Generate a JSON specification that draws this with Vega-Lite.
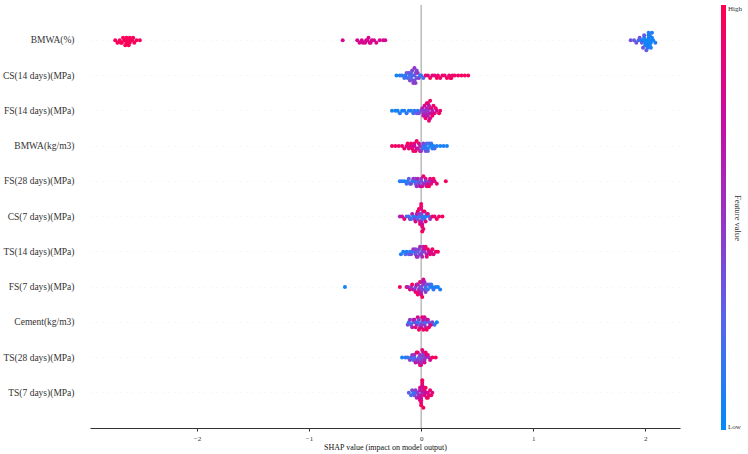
{
  "$schema": "https://vega.github.io/schema/vega-lite/v6.json",
  "width": 590,
  "height": 423,
  "autosize": "none",
  "padding": {"left": 90, "top": 5, "right": 68, "bottom": 26},
  "config": {"view": {"stroke": null}, "font": "Liberation Serif"},
  "datasets": {
    "shap": [
      {"feature":"BMWA(%)","shap":-2.73,"value":0.97},{"feature":"BMWA(%)","shap":-2.71,"value":0.98},{"feature":"BMWA(%)","shap":-2.69,"value":0.96},{"feature":"BMWA(%)","shap":-2.68,"value":0.99},{"feature":"BMWA(%)","shap":-2.67,"value":0.97},{"feature":"BMWA(%)","shap":-2.66,"value":0.98},{"feature":"BMWA(%)","shap":-2.65,"value":0.96},{"feature":"BMWA(%)","shap":-2.64,"value":0.99},{"feature":"BMWA(%)","shap":-2.63,"value":0.97},{"feature":"BMWA(%)","shap":-2.63,"value":0.98},{"feature":"BMWA(%)","shap":-2.62,"value":0.96},{"feature":"BMWA(%)","shap":-2.61,"value":0.99},{"feature":"BMWA(%)","shap":-2.6,"value":0.97},{"feature":"BMWA(%)","shap":-2.6,"value":0.98},{"feature":"BMWA(%)","shap":-2.59,"value":0.96},{"feature":"BMWA(%)","shap":-2.58,"value":0.97},{"feature":"BMWA(%)","shap":-2.57,"value":0.99},{"feature":"BMWA(%)","shap":-2.56,"value":0.98},{"feature":"BMWA(%)","shap":-2.54,"value":0.97},{"feature":"BMWA(%)","shap":-2.51,"value":0.96},
      {"feature":"BMWA(%)","shap":-0.7,"value":0.8},{"feature":"BMWA(%)","shap":-0.57,"value":0.8},{"feature":"BMWA(%)","shap":-0.55,"value":0.81},{"feature":"BMWA(%)","shap":-0.53,"value":0.79},{"feature":"BMWA(%)","shap":-0.52,"value":0.8},{"feature":"BMWA(%)","shap":-0.5,"value":0.82},{"feature":"BMWA(%)","shap":-0.49,"value":0.8},{"feature":"BMWA(%)","shap":-0.48,"value":0.79},{"feature":"BMWA(%)","shap":-0.47,"value":0.81},{"feature":"BMWA(%)","shap":-0.46,"value":0.8},{"feature":"BMWA(%)","shap":-0.45,"value":0.82},{"feature":"BMWA(%)","shap":-0.44,"value":0.8},{"feature":"BMWA(%)","shap":-0.42,"value":0.79},{"feature":"BMWA(%)","shap":-0.4,"value":0.81},{"feature":"BMWA(%)","shap":-0.37,"value":0.8},{"feature":"BMWA(%)","shap":-0.34,"value":0.82},{"feature":"BMWA(%)","shap":-0.32,"value":0.8},
      {"feature":"BMWA(%)","shap":1.87,"value":0.35},{"feature":"BMWA(%)","shap":1.9,"value":0.3},{"feature":"BMWA(%)","shap":1.92,"value":0.35},{"feature":"BMWA(%)","shap":1.94,"value":0.3},{"feature":"BMWA(%)","shap":1.95,"value":0.35},{"feature":"BMWA(%)","shap":1.96,"value":0.05},{"feature":"BMWA(%)","shap":1.97,"value":0.3},{"feature":"BMWA(%)","shap":1.98,"value":0.05},{"feature":"BMWA(%)","shap":1.98,"value":0.35},{"feature":"BMWA(%)","shap":1.99,"value":0.1},{"feature":"BMWA(%)","shap":1.99,"value":0.3},{"feature":"BMWA(%)","shap":2.0,"value":0.05},{"feature":"BMWA(%)","shap":2.0,"value":0.1},{"feature":"BMWA(%)","shap":2.01,"value":0.05},{"feature":"BMWA(%)","shap":2.01,"value":0.3},{"feature":"BMWA(%)","shap":2.02,"value":0.05},{"feature":"BMWA(%)","shap":2.02,"value":0.1},{"feature":"BMWA(%)","shap":2.02,"value":0.06},{"feature":"BMWA(%)","shap":2.03,"value":0.05},{"feature":"BMWA(%)","shap":2.03,"value":0.1},{"feature":"BMWA(%)","shap":2.03,"value":0.06},{"feature":"BMWA(%)","shap":2.04,"value":0.05},{"feature":"BMWA(%)","shap":2.04,"value":0.1},{"feature":"BMWA(%)","shap":2.04,"value":0.06},{"feature":"BMWA(%)","shap":2.05,"value":0.05},{"feature":"BMWA(%)","shap":2.05,"value":0.1},{"feature":"BMWA(%)","shap":2.06,"value":0.05},{"feature":"BMWA(%)","shap":2.06,"value":0.1},{"feature":"BMWA(%)","shap":2.07,"value":0.05},{"feature":"BMWA(%)","shap":2.09,"value":0.1},

      {"feature":"CS(14 days)(MPa)","shap":-0.22,"value":0.05},{"feature":"CS(14 days)(MPa)","shap":-0.19,"value":0.1},{"feature":"CS(14 days)(MPa)","shap":-0.17,"value":0.15},{"feature":"CS(14 days)(MPa)","shap":-0.15,"value":0.2},{"feature":"CS(14 days)(MPa)","shap":-0.14,"value":0.1},{"feature":"CS(14 days)(MPa)","shap":-0.13,"value":0.3},{"feature":"CS(14 days)(MPa)","shap":-0.12,"value":0.2},{"feature":"CS(14 days)(MPa)","shap":-0.11,"value":0.35},{"feature":"CS(14 days)(MPa)","shap":-0.1,"value":0.15},{"feature":"CS(14 days)(MPa)","shap":-0.1,"value":0.4},{"feature":"CS(14 days)(MPa)","shap":-0.09,"value":0.3},{"feature":"CS(14 days)(MPa)","shap":-0.09,"value":0.25},{"feature":"CS(14 days)(MPa)","shap":-0.08,"value":0.4},{"feature":"CS(14 days)(MPa)","shap":-0.08,"value":0.2},{"feature":"CS(14 days)(MPa)","shap":-0.07,"value":0.35},{"feature":"CS(14 days)(MPa)","shap":-0.07,"value":0.45},{"feature":"CS(14 days)(MPa)","shap":-0.06,"value":0.3},{"feature":"CS(14 days)(MPa)","shap":-0.06,"value":0.4},{"feature":"CS(14 days)(MPa)","shap":-0.06,"value":0.5},{"feature":"CS(14 days)(MPa)","shap":-0.05,"value":0.35},{"feature":"CS(14 days)(MPa)","shap":-0.05,"value":0.45},{"feature":"CS(14 days)(MPa)","shap":-0.04,"value":0.4},{"feature":"CS(14 days)(MPa)","shap":-0.04,"value":0.3},{"feature":"CS(14 days)(MPa)","shap":-0.03,"value":0.5},{"feature":"CS(14 days)(MPa)","shap":-0.02,"value":0.45},{"feature":"CS(14 days)(MPa)","shap":-0.01,"value":0.1},{"feature":"CS(14 days)(MPa)","shap":0.0,"value":0.15},{"feature":"CS(14 days)(MPa)","shap":0.02,"value":0.2},{"feature":"CS(14 days)(MPa)","shap":0.04,"value":0.9},{"feature":"CS(14 days)(MPa)","shap":0.06,"value":0.85},{"feature":"CS(14 days)(MPa)","shap":0.08,"value":0.95},{"feature":"CS(14 days)(MPa)","shap":0.1,"value":0.9},{"feature":"CS(14 days)(MPa)","shap":0.12,"value":0.85},{"feature":"CS(14 days)(MPa)","shap":0.14,"value":0.95},{"feature":"CS(14 days)(MPa)","shap":0.15,"value":0.9},{"feature":"CS(14 days)(MPa)","shap":0.17,"value":0.92},{"feature":"CS(14 days)(MPa)","shap":0.19,"value":0.95},{"feature":"CS(14 days)(MPa)","shap":0.21,"value":0.88},{"feature":"CS(14 days)(MPa)","shap":0.23,"value":0.95},{"feature":"CS(14 days)(MPa)","shap":0.25,"value":0.9},{"feature":"CS(14 days)(MPa)","shap":0.26,"value":0.97},{"feature":"CS(14 days)(MPa)","shap":0.27,"value":0.93},{"feature":"CS(14 days)(MPa)","shap":0.28,"value":0.9},{"feature":"CS(14 days)(MPa)","shap":0.3,"value":0.95},{"feature":"CS(14 days)(MPa)","shap":0.33,"value":0.92},{"feature":"CS(14 days)(MPa)","shap":0.36,"value":0.95},{"feature":"CS(14 days)(MPa)","shap":0.39,"value":0.97},{"feature":"CS(14 days)(MPa)","shap":0.42,"value":0.95},

      {"feature":"FS(14 days)(MPa)","shap":-0.26,"value":0.05},{"feature":"FS(14 days)(MPa)","shap":-0.23,"value":0.1},{"feature":"FS(14 days)(MPa)","shap":-0.21,"value":0.05},{"feature":"FS(14 days)(MPa)","shap":-0.19,"value":0.1},{"feature":"FS(14 days)(MPa)","shap":-0.17,"value":0.05},{"feature":"FS(14 days)(MPa)","shap":-0.15,"value":0.1},{"feature":"FS(14 days)(MPa)","shap":-0.13,"value":0.15},{"feature":"FS(14 days)(MPa)","shap":-0.11,"value":0.05},{"feature":"FS(14 days)(MPa)","shap":-0.09,"value":0.1},{"feature":"FS(14 days)(MPa)","shap":-0.07,"value":0.2},{"feature":"FS(14 days)(MPa)","shap":-0.06,"value":0.15},{"feature":"FS(14 days)(MPa)","shap":-0.04,"value":0.3},{"feature":"FS(14 days)(MPa)","shap":-0.03,"value":0.1},{"feature":"FS(14 days)(MPa)","shap":-0.02,"value":0.35},{"feature":"FS(14 days)(MPa)","shap":0.0,"value":0.4},{"feature":"FS(14 days)(MPa)","shap":0.01,"value":0.6},{"feature":"FS(14 days)(MPa)","shap":0.02,"value":0.5},{"feature":"FS(14 days)(MPa)","shap":0.02,"value":0.7},{"feature":"FS(14 days)(MPa)","shap":0.03,"value":0.45},{"feature":"FS(14 days)(MPa)","shap":0.03,"value":0.8},{"feature":"FS(14 days)(MPa)","shap":0.04,"value":0.55},{"feature":"FS(14 days)(MPa)","shap":0.04,"value":0.9},{"feature":"FS(14 days)(MPa)","shap":0.05,"value":0.6},{"feature":"FS(14 days)(MPa)","shap":0.05,"value":0.75},{"feature":"FS(14 days)(MPa)","shap":0.05,"value":0.95},{"feature":"FS(14 days)(MPa)","shap":0.06,"value":0.5},{"feature":"FS(14 days)(MPa)","shap":0.06,"value":0.85},{"feature":"FS(14 days)(MPa)","shap":0.06,"value":0.65},{"feature":"FS(14 days)(MPa)","shap":0.07,"value":0.9},{"feature":"FS(14 days)(MPa)","shap":0.07,"value":0.7},{"feature":"FS(14 days)(MPa)","shap":0.07,"value":0.55},{"feature":"FS(14 days)(MPa)","shap":0.08,"value":0.8},{"feature":"FS(14 days)(MPa)","shap":0.08,"value":0.95},{"feature":"FS(14 days)(MPa)","shap":0.08,"value":0.6},{"feature":"FS(14 days)(MPa)","shap":0.09,"value":0.85},{"feature":"FS(14 days)(MPa)","shap":0.09,"value":0.75},{"feature":"FS(14 days)(MPa)","shap":0.1,"value":0.9},{"feature":"FS(14 days)(MPa)","shap":0.1,"value":0.65},{"feature":"FS(14 days)(MPa)","shap":0.11,"value":0.95},{"feature":"FS(14 days)(MPa)","shap":0.12,"value":0.85},{"feature":"FS(14 days)(MPa)","shap":0.13,"value":0.9},{"feature":"FS(14 days)(MPa)","shap":0.14,"value":0.8},{"feature":"FS(14 days)(MPa)","shap":0.16,"value":0.95},{"feature":"FS(14 days)(MPa)","shap":0.17,"value":0.9},

      {"feature":"BMWA(kg/m3)","shap":-0.26,"value":0.95},{"feature":"BMWA(kg/m3)","shap":-0.23,"value":0.95},{"feature":"BMWA(kg/m3)","shap":-0.2,"value":0.9},{"feature":"BMWA(kg/m3)","shap":-0.17,"value":0.95},{"feature":"BMWA(kg/m3)","shap":-0.15,"value":0.9},{"feature":"BMWA(kg/m3)","shap":-0.13,"value":0.85},{"feature":"BMWA(kg/m3)","shap":-0.12,"value":0.95},{"feature":"BMWA(kg/m3)","shap":-0.11,"value":0.9},{"feature":"BMWA(kg/m3)","shap":-0.1,"value":0.85},{"feature":"BMWA(kg/m3)","shap":-0.09,"value":0.95},{"feature":"BMWA(kg/m3)","shap":-0.08,"value":0.8},{"feature":"BMWA(kg/m3)","shap":-0.08,"value":0.9},{"feature":"BMWA(kg/m3)","shap":-0.07,"value":0.95},{"feature":"BMWA(kg/m3)","shap":-0.06,"value":0.85},{"feature":"BMWA(kg/m3)","shap":-0.06,"value":0.75},{"feature":"BMWA(kg/m3)","shap":-0.05,"value":0.9},{"feature":"BMWA(kg/m3)","shap":-0.04,"value":0.8},{"feature":"BMWA(kg/m3)","shap":-0.04,"value":0.95},{"feature":"BMWA(kg/m3)","shap":-0.03,"value":0.7},{"feature":"BMWA(kg/m3)","shap":-0.02,"value":0.85},{"feature":"BMWA(kg/m3)","shap":-0.01,"value":0.6},{"feature":"BMWA(kg/m3)","shap":-0.01,"value":0.9},{"feature":"BMWA(kg/m3)","shap":0.0,"value":0.5},{"feature":"BMWA(kg/m3)","shap":0.01,"value":0.3},{"feature":"BMWA(kg/m3)","shap":0.02,"value":0.2},{"feature":"BMWA(kg/m3)","shap":0.02,"value":0.4},{"feature":"BMWA(kg/m3)","shap":0.03,"value":0.15},{"feature":"BMWA(kg/m3)","shap":0.04,"value":0.3},{"feature":"BMWA(kg/m3)","shap":0.04,"value":0.1},{"feature":"BMWA(kg/m3)","shap":0.05,"value":0.2},{"feature":"BMWA(kg/m3)","shap":0.06,"value":0.35},{"feature":"BMWA(kg/m3)","shap":0.06,"value":0.1},{"feature":"BMWA(kg/m3)","shap":0.07,"value":0.25},{"feature":"BMWA(kg/m3)","shap":0.08,"value":0.05},{"feature":"BMWA(kg/m3)","shap":0.09,"value":0.15},{"feature":"BMWA(kg/m3)","shap":0.1,"value":0.1},{"feature":"BMWA(kg/m3)","shap":0.11,"value":0.05},{"feature":"BMWA(kg/m3)","shap":0.12,"value":0.2},{"feature":"BMWA(kg/m3)","shap":0.14,"value":0.1},{"feature":"BMWA(kg/m3)","shap":0.17,"value":0.05},{"feature":"BMWA(kg/m3)","shap":0.2,"value":0.1},{"feature":"BMWA(kg/m3)","shap":0.23,"value":0.05},

      {"feature":"FS(28 days)(MPa)","shap":-0.19,"value":0.1},{"feature":"FS(28 days)(MPa)","shap":-0.17,"value":0.15},{"feature":"FS(28 days)(MPa)","shap":-0.15,"value":0.05},{"feature":"FS(28 days)(MPa)","shap":-0.13,"value":0.2},{"feature":"FS(28 days)(MPa)","shap":-0.12,"value":0.1},{"feature":"FS(28 days)(MPa)","shap":-0.11,"value":0.3},{"feature":"FS(28 days)(MPa)","shap":-0.1,"value":0.15},{"feature":"FS(28 days)(MPa)","shap":-0.09,"value":0.4},{"feature":"FS(28 days)(MPa)","shap":-0.08,"value":0.2},{"feature":"FS(28 days)(MPa)","shap":-0.07,"value":0.5},{"feature":"FS(28 days)(MPa)","shap":-0.06,"value":0.1},{"feature":"FS(28 days)(MPa)","shap":-0.05,"value":0.45},{"feature":"FS(28 days)(MPa)","shap":-0.05,"value":0.3},{"feature":"FS(28 days)(MPa)","shap":-0.04,"value":0.55},{"feature":"FS(28 days)(MPa)","shap":-0.03,"value":0.2},{"feature":"FS(28 days)(MPa)","shap":-0.03,"value":0.6},{"feature":"FS(28 days)(MPa)","shap":-0.02,"value":0.4},{"feature":"FS(28 days)(MPa)","shap":-0.01,"value":0.7},{"feature":"FS(28 days)(MPa)","shap":0.0,"value":0.5},{"feature":"FS(28 days)(MPa)","shap":0.0,"value":0.35},{"feature":"FS(28 days)(MPa)","shap":0.01,"value":0.8},{"feature":"FS(28 days)(MPa)","shap":0.02,"value":0.45},{"feature":"FS(28 days)(MPa)","shap":0.02,"value":0.9},{"feature":"FS(28 days)(MPa)","shap":0.03,"value":0.6},{"feature":"FS(28 days)(MPa)","shap":0.04,"value":0.85},{"feature":"FS(28 days)(MPa)","shap":0.04,"value":0.4},{"feature":"FS(28 days)(MPa)","shap":0.05,"value":0.9},{"feature":"FS(28 days)(MPa)","shap":0.06,"value":0.7},{"feature":"FS(28 days)(MPa)","shap":0.07,"value":0.95},{"feature":"FS(28 days)(MPa)","shap":0.07,"value":0.5},{"feature":"FS(28 days)(MPa)","shap":0.08,"value":0.85},{"feature":"FS(28 days)(MPa)","shap":0.09,"value":0.9},{"feature":"FS(28 days)(MPa)","shap":0.1,"value":0.75},{"feature":"FS(28 days)(MPa)","shap":0.11,"value":0.95},{"feature":"FS(28 days)(MPa)","shap":0.12,"value":0.85},{"feature":"FS(28 days)(MPa)","shap":0.14,"value":0.9},{"feature":"FS(28 days)(MPa)","shap":0.22,"value":0.95},

      {"feature":"CS(7 days)(MPa)","shap":-0.19,"value":0.6},{"feature":"CS(7 days)(MPa)","shap":-0.17,"value":0.75},{"feature":"CS(7 days)(MPa)","shap":-0.15,"value":0.9},{"feature":"CS(7 days)(MPa)","shap":-0.13,"value":0.3},{"feature":"CS(7 days)(MPa)","shap":-0.11,"value":0.1},{"feature":"CS(7 days)(MPa)","shap":-0.1,"value":0.5},{"feature":"CS(7 days)(MPa)","shap":-0.09,"value":0.2},{"feature":"CS(7 days)(MPa)","shap":-0.08,"value":0.7},{"feature":"CS(7 days)(MPa)","shap":-0.07,"value":0.1},{"feature":"CS(7 days)(MPa)","shap":-0.06,"value":0.4},{"feature":"CS(7 days)(MPa)","shap":-0.05,"value":0.85},{"feature":"CS(7 days)(MPa)","shap":-0.04,"value":0.15},{"feature":"CS(7 days)(MPa)","shap":-0.04,"value":0.6},{"feature":"CS(7 days)(MPa)","shap":-0.03,"value":0.9},{"feature":"CS(7 days)(MPa)","shap":-0.03,"value":0.3},{"feature":"CS(7 days)(MPa)","shap":-0.02,"value":0.95},{"feature":"CS(7 days)(MPa)","shap":-0.02,"value":0.5},{"feature":"CS(7 days)(MPa)","shap":-0.01,"value":0.8},{"feature":"CS(7 days)(MPa)","shap":-0.01,"value":0.2},{"feature":"CS(7 days)(MPa)","shap":-0.01,"value":0.9},{"feature":"CS(7 days)(MPa)","shap":0.0,"value":0.95},{"feature":"CS(7 days)(MPa)","shap":0.0,"value":0.65},{"feature":"CS(7 days)(MPa)","shap":0.0,"value":0.85},{"feature":"CS(7 days)(MPa)","shap":0.0,"value":0.4},{"feature":"CS(7 days)(MPa)","shap":0.0,"value":0.9},{"feature":"CS(7 days)(MPa)","shap":0.01,"value":0.95},{"feature":"CS(7 days)(MPa)","shap":0.01,"value":0.75},{"feature":"CS(7 days)(MPa)","shap":0.01,"value":0.3},{"feature":"CS(7 days)(MPa)","shap":0.01,"value":0.88},{"feature":"CS(7 days)(MPa)","shap":0.02,"value":0.9},{"feature":"CS(7 days)(MPa)","shap":0.02,"value":0.1},{"feature":"CS(7 days)(MPa)","shap":0.02,"value":0.7},{"feature":"CS(7 days)(MPa)","shap":0.03,"value":0.95},{"feature":"CS(7 days)(MPa)","shap":0.03,"value":0.2},{"feature":"CS(7 days)(MPa)","shap":0.04,"value":0.85},{"feature":"CS(7 days)(MPa)","shap":0.04,"value":0.05},{"feature":"CS(7 days)(MPa)","shap":0.05,"value":0.3},{"feature":"CS(7 days)(MPa)","shap":0.06,"value":0.9},{"feature":"CS(7 days)(MPa)","shap":0.07,"value":0.15},{"feature":"CS(7 days)(MPa)","shap":0.08,"value":0.5},{"feature":"CS(7 days)(MPa)","shap":0.1,"value":0.95},{"feature":"CS(7 days)(MPa)","shap":0.12,"value":0.9},{"feature":"CS(7 days)(MPa)","shap":0.14,"value":0.95},{"feature":"CS(7 days)(MPa)","shap":0.16,"value":0.92},{"feature":"CS(7 days)(MPa)","shap":0.19,"value":0.95},

      {"feature":"TS(14 days)(MPa)","shap":-0.18,"value":0.1},{"feature":"TS(14 days)(MPa)","shap":-0.16,"value":0.05},{"feature":"TS(14 days)(MPa)","shap":-0.14,"value":0.2},{"feature":"TS(14 days)(MPa)","shap":-0.13,"value":0.1},{"feature":"TS(14 days)(MPa)","shap":-0.11,"value":0.3},{"feature":"TS(14 days)(MPa)","shap":-0.1,"value":0.15},{"feature":"TS(14 days)(MPa)","shap":-0.09,"value":0.4},{"feature":"TS(14 days)(MPa)","shap":-0.08,"value":0.1},{"feature":"TS(14 days)(MPa)","shap":-0.07,"value":0.5},{"feature":"TS(14 days)(MPa)","shap":-0.06,"value":0.2},{"feature":"TS(14 days)(MPa)","shap":-0.05,"value":0.45},{"feature":"TS(14 days)(MPa)","shap":-0.05,"value":0.35},{"feature":"TS(14 days)(MPa)","shap":-0.04,"value":0.6},{"feature":"TS(14 days)(MPa)","shap":-0.03,"value":0.3},{"feature":"TS(14 days)(MPa)","shap":-0.03,"value":0.5},{"feature":"TS(14 days)(MPa)","shap":-0.02,"value":0.4},{"feature":"TS(14 days)(MPa)","shap":-0.01,"value":0.55},{"feature":"TS(14 days)(MPa)","shap":-0.01,"value":0.35},{"feature":"TS(14 days)(MPa)","shap":0.0,"value":0.45},{"feature":"TS(14 days)(MPa)","shap":0.01,"value":0.6},{"feature":"TS(14 days)(MPa)","shap":0.01,"value":0.4},{"feature":"TS(14 days)(MPa)","shap":0.02,"value":0.7},{"feature":"TS(14 days)(MPa)","shap":0.02,"value":0.5},{"feature":"TS(14 days)(MPa)","shap":0.03,"value":0.8},{"feature":"TS(14 days)(MPa)","shap":0.03,"value":0.45},{"feature":"TS(14 days)(MPa)","shap":0.04,"value":0.9},{"feature":"TS(14 days)(MPa)","shap":0.05,"value":0.65},{"feature":"TS(14 days)(MPa)","shap":0.05,"value":0.85},{"feature":"TS(14 days)(MPa)","shap":0.06,"value":0.95},{"feature":"TS(14 days)(MPa)","shap":0.07,"value":0.75},{"feature":"TS(14 days)(MPa)","shap":0.08,"value":0.9},{"feature":"TS(14 days)(MPa)","shap":0.09,"value":0.8},{"feature":"TS(14 days)(MPa)","shap":0.1,"value":0.95},{"feature":"TS(14 days)(MPa)","shap":0.11,"value":0.85},{"feature":"TS(14 days)(MPa)","shap":0.13,"value":0.9},{"feature":"TS(14 days)(MPa)","shap":0.15,"value":0.95},

      {"feature":"FS(7 days)(MPa)","shap":-0.68,"value":0.05},{"feature":"FS(7 days)(MPa)","shap":-0.19,"value":0.95},{"feature":"FS(7 days)(MPa)","shap":-0.13,"value":0.9},{"feature":"FS(7 days)(MPa)","shap":-0.12,"value":0.6},{"feature":"FS(7 days)(MPa)","shap":-0.1,"value":0.85},{"feature":"FS(7 days)(MPa)","shap":-0.09,"value":0.5},{"feature":"FS(7 days)(MPa)","shap":-0.08,"value":0.95},{"feature":"FS(7 days)(MPa)","shap":-0.07,"value":0.7},{"feature":"FS(7 days)(MPa)","shap":-0.06,"value":0.55},{"feature":"FS(7 days)(MPa)","shap":-0.05,"value":0.9},{"feature":"FS(7 days)(MPa)","shap":-0.05,"value":0.4},{"feature":"FS(7 days)(MPa)","shap":-0.04,"value":0.8},{"feature":"FS(7 days)(MPa)","shap":-0.03,"value":0.6},{"feature":"FS(7 days)(MPa)","shap":-0.03,"value":0.95},{"feature":"FS(7 days)(MPa)","shap":-0.02,"value":0.5},{"feature":"FS(7 days)(MPa)","shap":-0.02,"value":0.85},{"feature":"FS(7 days)(MPa)","shap":-0.01,"value":0.45},{"feature":"FS(7 days)(MPa)","shap":-0.01,"value":0.9},{"feature":"FS(7 days)(MPa)","shap":0.0,"value":0.55},{"feature":"FS(7 days)(MPa)","shap":0.0,"value":0.75},{"feature":"FS(7 days)(MPa)","shap":0.0,"value":0.35},{"feature":"FS(7 days)(MPa)","shap":0.01,"value":0.6},{"feature":"FS(7 days)(MPa)","shap":0.01,"value":0.95},{"feature":"FS(7 days)(MPa)","shap":0.01,"value":0.4},{"feature":"FS(7 days)(MPa)","shap":0.02,"value":0.5},{"feature":"FS(7 days)(MPa)","shap":0.02,"value":0.8},{"feature":"FS(7 days)(MPa)","shap":0.03,"value":0.3},{"feature":"FS(7 days)(MPa)","shap":0.03,"value":0.6},{"feature":"FS(7 days)(MPa)","shap":0.04,"value":0.2},{"feature":"FS(7 days)(MPa)","shap":0.04,"value":0.45},{"feature":"FS(7 days)(MPa)","shap":0.05,"value":0.3},{"feature":"FS(7 days)(MPa)","shap":0.06,"value":0.15},{"feature":"FS(7 days)(MPa)","shap":0.07,"value":0.35},{"feature":"FS(7 days)(MPa)","shap":0.08,"value":0.1},{"feature":"FS(7 days)(MPa)","shap":0.09,"value":0.2},{"feature":"FS(7 days)(MPa)","shap":0.1,"value":0.05},{"feature":"FS(7 days)(MPa)","shap":0.11,"value":0.15},{"feature":"FS(7 days)(MPa)","shap":0.13,"value":0.1},{"feature":"FS(7 days)(MPa)","shap":0.15,"value":0.05},{"feature":"FS(7 days)(MPa)","shap":0.17,"value":0.1},

      {"feature":"Cement(kg/m3)","shap":-0.12,"value":0.4},{"feature":"Cement(kg/m3)","shap":-0.11,"value":0.1},{"feature":"Cement(kg/m3)","shap":-0.1,"value":0.5},{"feature":"Cement(kg/m3)","shap":-0.09,"value":0.3},{"feature":"Cement(kg/m3)","shap":-0.08,"value":0.6},{"feature":"Cement(kg/m3)","shap":-0.07,"value":0.2},{"feature":"Cement(kg/m3)","shap":-0.07,"value":0.45},{"feature":"Cement(kg/m3)","shap":-0.06,"value":0.7},{"feature":"Cement(kg/m3)","shap":-0.05,"value":0.35},{"feature":"Cement(kg/m3)","shap":-0.05,"value":0.9},{"feature":"Cement(kg/m3)","shap":-0.04,"value":0.55},{"feature":"Cement(kg/m3)","shap":-0.03,"value":0.15},{"feature":"Cement(kg/m3)","shap":-0.03,"value":0.8},{"feature":"Cement(kg/m3)","shap":-0.02,"value":0.4},{"feature":"Cement(kg/m3)","shap":-0.02,"value":0.95},{"feature":"Cement(kg/m3)","shap":-0.01,"value":0.6},{"feature":"Cement(kg/m3)","shap":-0.01,"value":0.25},{"feature":"Cement(kg/m3)","shap":0.0,"value":0.85},{"feature":"Cement(kg/m3)","shap":0.0,"value":0.5},{"feature":"Cement(kg/m3)","shap":0.01,"value":0.9},{"feature":"Cement(kg/m3)","shap":0.01,"value":0.3},{"feature":"Cement(kg/m3)","shap":0.02,"value":0.7},{"feature":"Cement(kg/m3)","shap":0.02,"value":0.95},{"feature":"Cement(kg/m3)","shap":0.03,"value":0.45},{"feature":"Cement(kg/m3)","shap":0.03,"value":0.85},{"feature":"Cement(kg/m3)","shap":0.04,"value":0.6},{"feature":"Cement(kg/m3)","shap":0.04,"value":0.2},{"feature":"Cement(kg/m3)","shap":0.05,"value":0.9},{"feature":"Cement(kg/m3)","shap":0.05,"value":0.5},{"feature":"Cement(kg/m3)","shap":0.06,"value":0.75},{"feature":"Cement(kg/m3)","shap":0.07,"value":0.35},{"feature":"Cement(kg/m3)","shap":0.07,"value":0.95},{"feature":"Cement(kg/m3)","shap":0.08,"value":0.6},{"feature":"Cement(kg/m3)","shap":0.09,"value":0.85},{"feature":"Cement(kg/m3)","shap":0.1,"value":0.4},{"feature":"Cement(kg/m3)","shap":0.12,"value":0.15},{"feature":"Cement(kg/m3)","shap":0.14,"value":0.05},

      {"feature":"TS(28 days)(MPa)","shap":-0.17,"value":0.05},{"feature":"TS(28 days)(MPa)","shap":-0.14,"value":0.1},{"feature":"TS(28 days)(MPa)","shap":-0.12,"value":0.2},{"feature":"TS(28 days)(MPa)","shap":-0.1,"value":0.4},{"feature":"TS(28 days)(MPa)","shap":-0.09,"value":0.15},{"feature":"TS(28 days)(MPa)","shap":-0.08,"value":0.5},{"feature":"TS(28 days)(MPa)","shap":-0.07,"value":0.3},{"feature":"TS(28 days)(MPa)","shap":-0.06,"value":0.6},{"feature":"TS(28 days)(MPa)","shap":-0.06,"value":0.25},{"feature":"TS(28 days)(MPa)","shap":-0.05,"value":0.7},{"feature":"TS(28 days)(MPa)","shap":-0.04,"value":0.35},{"feature":"TS(28 days)(MPa)","shap":-0.04,"value":0.85},{"feature":"TS(28 days)(MPa)","shap":-0.03,"value":0.45},{"feature":"TS(28 days)(MPa)","shap":-0.03,"value":0.9},{"feature":"TS(28 days)(MPa)","shap":-0.02,"value":0.3},{"feature":"TS(28 days)(MPa)","shap":-0.02,"value":0.6},{"feature":"TS(28 days)(MPa)","shap":-0.01,"value":0.95},{"feature":"TS(28 days)(MPa)","shap":-0.01,"value":0.5},{"feature":"TS(28 days)(MPa)","shap":0.0,"value":0.4},{"feature":"TS(28 days)(MPa)","shap":0.0,"value":0.8},{"feature":"TS(28 days)(MPa)","shap":0.0,"value":0.55},{"feature":"TS(28 days)(MPa)","shap":0.01,"value":0.9},{"feature":"TS(28 days)(MPa)","shap":0.01,"value":0.35},{"feature":"TS(28 days)(MPa)","shap":0.02,"value":0.7},{"feature":"TS(28 days)(MPa)","shap":0.02,"value":0.45},{"feature":"TS(28 days)(MPa)","shap":0.03,"value":0.85},{"feature":"TS(28 days)(MPa)","shap":0.03,"value":0.6},{"feature":"TS(28 days)(MPa)","shap":0.04,"value":0.95},{"feature":"TS(28 days)(MPa)","shap":0.04,"value":0.5},{"feature":"TS(28 days)(MPa)","shap":0.05,"value":0.75},{"feature":"TS(28 days)(MPa)","shap":0.06,"value":0.9},{"feature":"TS(28 days)(MPa)","shap":0.07,"value":0.55},{"feature":"TS(28 days)(MPa)","shap":0.08,"value":0.8},{"feature":"TS(28 days)(MPa)","shap":0.1,"value":0.95},{"feature":"TS(28 days)(MPa)","shap":0.13,"value":0.95},

      {"feature":"TS(7 days)(MPa)","shap":-0.11,"value":0.3},{"feature":"TS(7 days)(MPa)","shap":-0.09,"value":0.2},{"feature":"TS(7 days)(MPa)","shap":-0.08,"value":0.4},{"feature":"TS(7 days)(MPa)","shap":-0.07,"value":0.1},{"feature":"TS(7 days)(MPa)","shap":-0.06,"value":0.35},{"feature":"TS(7 days)(MPa)","shap":-0.05,"value":0.5},{"feature":"TS(7 days)(MPa)","shap":-0.04,"value":0.25},{"feature":"TS(7 days)(MPa)","shap":-0.04,"value":0.6},{"feature":"TS(7 days)(MPa)","shap":-0.03,"value":0.45},{"feature":"TS(7 days)(MPa)","shap":-0.02,"value":0.7},{"feature":"TS(7 days)(MPa)","shap":-0.02,"value":0.55},{"feature":"TS(7 days)(MPa)","shap":-0.01,"value":0.8},{"feature":"TS(7 days)(MPa)","shap":-0.01,"value":0.65},{"feature":"TS(7 days)(MPa)","shap":-0.01,"value":0.9},{"feature":"TS(7 days)(MPa)","shap":0.0,"value":0.85},{"feature":"TS(7 days)(MPa)","shap":0.0,"value":0.95},{"feature":"TS(7 days)(MPa)","shap":0.0,"value":0.75},{"feature":"TS(7 days)(MPa)","shap":0.0,"value":0.9},{"feature":"TS(7 days)(MPa)","shap":0.0,"value":0.7},{"feature":"TS(7 days)(MPa)","shap":0.01,"value":0.95},{"feature":"TS(7 days)(MPa)","shap":0.01,"value":0.85},{"feature":"TS(7 days)(MPa)","shap":0.01,"value":0.6},{"feature":"TS(7 days)(MPa)","shap":0.01,"value":0.9},{"feature":"TS(7 days)(MPa)","shap":0.02,"value":0.8},{"feature":"TS(7 days)(MPa)","shap":0.02,"value":0.95},{"feature":"TS(7 days)(MPa)","shap":0.02,"value":0.7},{"feature":"TS(7 days)(MPa)","shap":0.03,"value":0.9},{"feature":"TS(7 days)(MPa)","shap":0.03,"value":0.85},{"feature":"TS(7 days)(MPa)","shap":0.04,"value":0.95},{"feature":"TS(7 days)(MPa)","shap":0.04,"value":0.75},{"feature":"TS(7 days)(MPa)","shap":0.05,"value":0.9},{"feature":"TS(7 days)(MPa)","shap":0.06,"value":0.8},{"feature":"TS(7 days)(MPa)","shap":0.06,"value":0.95},{"feature":"TS(7 days)(MPa)","shap":0.07,"value":0.85},{"feature":"TS(7 days)(MPa)","shap":0.08,"value":0.9},{"feature":"TS(7 days)(MPa)","shap":0.09,"value":0.95},{"feature":"TS(7 days)(MPa)","shap":0.1,"value":0.85}
    ]
  },
  "layer": [
    {
      "data": {"values": [{"zero": 0}]},
      "mark": {"type": "rule", "color": "#999999", "strokeWidth": 1},
      "encoding": {"x": {"field": "zero", "type": "quantitative"}}
    },
    {
      "data": {"name": "shap"},
      "transform": [
        {"bin": {"step": 0.03}, "field": "shap", "as": "sbin"},
        {"window": [{"op": "row_number", "as": "rank"}], "groupby": ["feature", "sbin"], "sort": [{"field": "value"}]},
        {"calculate": "(datum.rank % 2 == 0 ? 1 : -1) * floor(datum.rank / 2)", "as": "lane"}
      ],
      "mark": {"type": "circle", "size": 16, "opacity": 1},
      "encoding": {
        "x": {"field": "shap", "type": "quantitative"},
        "y": {
          "field": "feature", "type": "nominal",
          "sort": ["BMWA(%)","CS(14 days)(MPa)","FS(14 days)(MPa)","BMWA(kg/m3)","FS(28 days)(MPa)","CS(7 days)(MPa)","TS(14 days)(MPa)","FS(7 days)(MPa)","Cement(kg/m3)","TS(28 days)(MPa)","TS(7 days)(MPa)"],
          "scale": {"paddingInner": 0, "paddingOuter": 0.5},
          "axis": {"title": null, "domain": false, "ticks": false, "labelFontSize": 9.5, "labelColor": "#333333", "labelPadding": 16, "grid": true, "gridColor": "#dddddd", "gridDash": [1, 5], "gridWidth": 0.5}
        },
        "yOffset": {"field": "lane", "type": "quantitative", "scale": {"domain": [-7, 7]}},
        "color": {
          "field": "value", "type": "quantitative",
          "scale": {"domain": [0, 0.25, 0.5, 0.75, 1], "range": ["#008bfb", "#5566ee", "#9833c6", "#cc0a9e", "#ff0051"], "interpolate": "rgb"},
          "legend": {"title": "Feature value", "orient": "none", "legendX": 631, "legendY": 0, "direction": "vertical", "gradientLength": 425, "gradientThickness": 5, "gradientStrokeWidth": 0, "values": [0, 1], "labelExpr": "datum.value == 1 ? 'High' : 'Low'", "labelFontSize": 7, "labelColor": "#333333", "labelOffset": 2, "titleOrient": "right", "titleAngle": 270, "titleFontSize": 8.5, "titleFontWeight": "normal", "titleColor": "#333333", "titleAnchor": "middle", "titlePadding": -9}
        }
      }
    }
  ],
  "resolve": {"scale": {"x": "shared"}},
  "encoding": {
    "x": {
      "scale": {"domain": [-2.955, 2.31], "nice": false, "zero": false},
      "axis": {"title": "SHAP value (impact on model output)", "values": [-2, -1, 0, 1, 2], "grid": false, "domainColor": "#333333", "tickColor": "#333333", "tickSize": 3, "labelFontSize": 7, "labelColor": "#333333", "labelPadding": 3, "titleFontSize": 8, "titleFontWeight": "normal", "titleColor": "#111111", "titlePadding": 2}
    }
  }
}
